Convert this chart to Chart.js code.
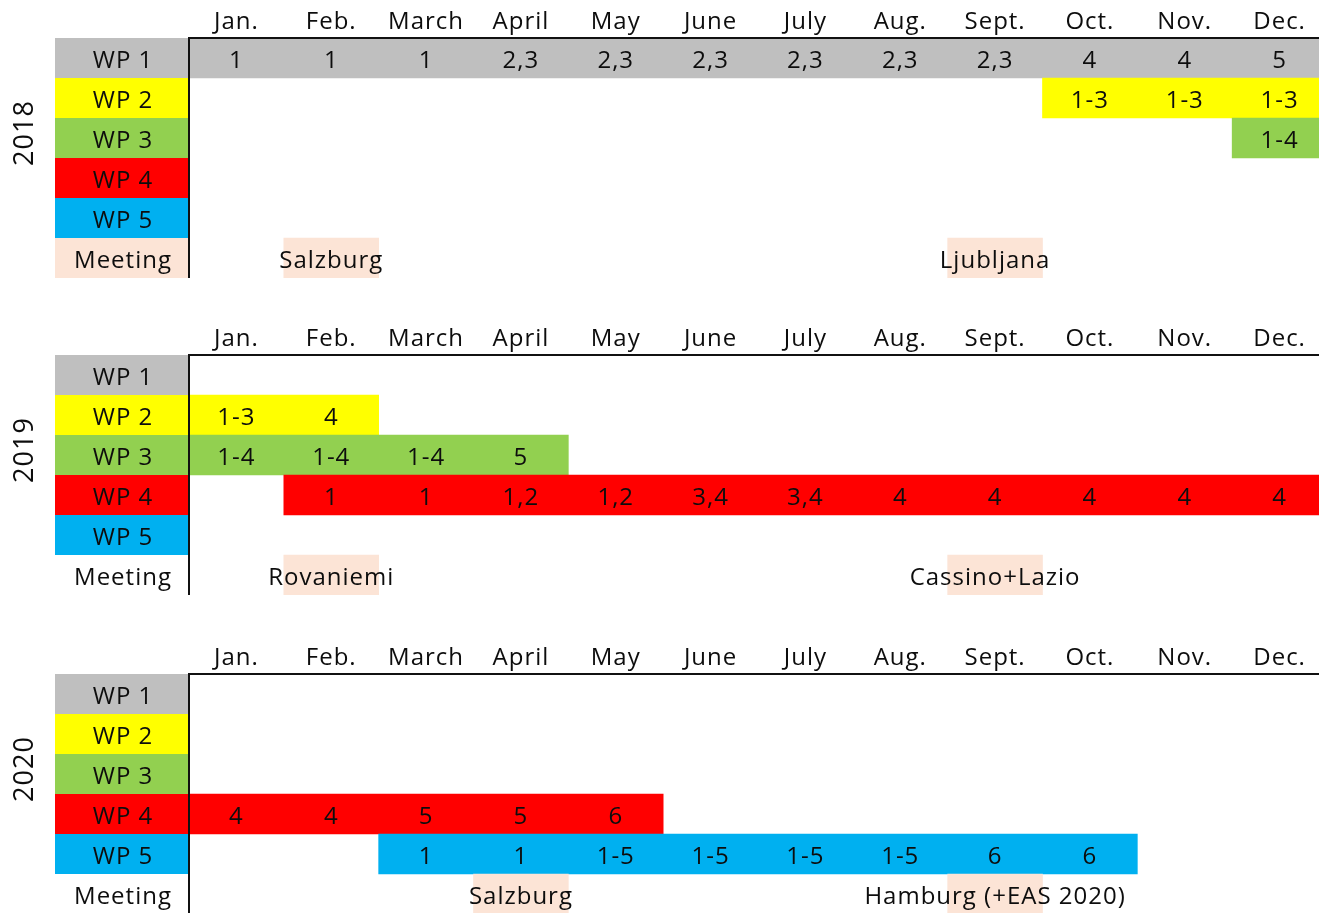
<!DOCTYPE html>
<html><head><meta charset="utf-8">
<script src="https://cdn.jsdelivr.net/npm/chart.js@4/dist/chart.umd.min.js"></script>
<style>
html,body{margin:0;padding:0;background:#fff;overflow:hidden;width:1319px;height:913px;position:relative}
.panel{position:absolute;left:0;width:1319px;overflow:hidden}
canvas{display:block}
</style></head><body>
<div class="panel" style="top:0;height:278px"><canvas id="c2018" width="1327" height="278"></canvas></div>
<div class="panel" style="top:317px;height:278px"><canvas id="c2019" width="1327" height="278"></canvas></div>
<div class="panel" style="top:636px;height:277px"><canvas id="c2020" width="1327" height="278"></canvas></div>
<script>
const months = ['Jan.','Feb.','March','April','May','June','July','Aug.','Sept.','Oct.','Nov.','Dec.'];
const rows = ['WP 1','WP 2','WP 3','WP 4','WP 5','Meeting'];
const _ = null;

// 2018
const wp1_2018 = ['1','1','1','2,3','2,3','2,3','2,3','2,3','2,3','4','4','5'];
const wp2_2018 = [_,_,_,_,_,_,_,_,_,'1-3','1-3','1-3'];
const wp3_2018 = [_,_,_,_,_,_,_,_,_,_,_,'1-4'];
const wp4_2018 = [_,_,_,_,_,_,_,_,_,_,_,_];
const wp5_2018 = [_,_,_,_,_,_,_,_,_,_,_,_];
const meeting_2018 = [_,'Salzburg',_,_,_,_,_,_,'Ljubljana',_,_,_];

// 2019
const wp1_2019 = [_,_,_,_,_,_,_,_,_,_,_,_];
const wp2_2019 = ['1-3','4',_,_,_,_,_,_,_,_,_,_];
const wp3_2019 = ['1-4','1-4','1-4','5',_,_,_,_,_,_,_,_];
const wp4_2019 = [_,'1','1','1,2','1,2','3,4','3,4','4','4','4','4','4'];
const wp5_2019 = [_,_,_,_,_,_,_,_,_,_,_,_];
const meeting_2019 = [_,'Rovaniemi',_,_,_,_,_,_,'Cassino+Lazio',_,_,_];

// 2020
const wp1_2020 = [_,_,_,_,_,_,_,_,_,_,_,_];
const wp2_2020 = [_,_,_,_,_,_,_,_,_,_,_,_];
const wp3_2020 = [_,_,_,_,_,_,_,_,_,_,_,_];
const wp4_2020 = ['4','4','5','5','6',_,_,_,_,_,_,_];
const wp5_2020 = [_,_,'1','1','1-5','1-5','1-5','1-5','6','6',_,_];
const meeting_2020 = [_,_,_,'Salzburg',_,_,_,_,'Hamburg (+EAS 2020)',_,_,_];

const wpColors = ['#BFBFBF','#FFFF00','#92D050','#FF0000','#00B0F0'];
const meetingColor = '#FCE4D6';
const FONT_FAMILY = '"Open Sans", Lato, sans-serif';
const FONT_SIZE = 24;
const YEAR_SIZE = 27;
const SPACING = '1px';
const TEXT_COLOR = '#0d0d0d';

function measure(txt){
  const c = document.createElement('canvas').getContext('2d');
  c.letterSpacing = SPACING;
  c.font = FONT_SIZE + 'px ' + FONT_FAMILY;
  return c.measureText(txt).width;
}

function buildChart(id, year, wpCells, meetingCells, meetingLabelColor){
  const bars = [], colors = [];
  wpCells.forEach((cells, r) => {
    let i = 0;
    while (i < 12) {
      if (cells[i] != null) {
        let j = i;
        while (j < 12 && cells[j] != null) j++;
        bars.push({x:[i, j], y: rows[r]});
        colors.push(wpColors[r]);
        i = j;
      } else i++;
    }
  });
  meetingCells.forEach((m, i) => {
    if (m) { bars.push({x:[i, i+1], y:'Meeting'}); colors.push(meetingColor); }
  });
  const labelColors = wpColors.concat([meetingLabelColor]);
  const widest = measure('Meeting');
  const labelCenter = 123;
  const LEFT = 189;

  const plugin = {
    id: 'gantt_' + year,
    beforeUpdate(chart){ chart.ctx.letterSpacing = SPACING; },
    beforeDraw(chart){
      const ctx = chart.ctx, ys = chart.scales.y;
      ctx.letterSpacing = SPACING;
      const h = ys.getPixelForValue(1) - ys.getPixelForValue(0);
      ctx.save();
      rows.forEach((r, i) => {
        const cy = ys.getPixelForValue(i);
        ctx.fillStyle = labelColors[i];
        ctx.fillRect(55, cy - h/2, chart.chartArea.left - 55, h);
      });
      ctx.restore();
    },
    afterDatasetsDraw(chart){
      const ctx = chart.ctx, xs = chart.scales.x, ys = chart.scales.y;
      ctx.save();
      ctx.font = FONT_SIZE + 'px ' + FONT_FAMILY;
      ctx.fillStyle = TEXT_COLOR;
      ctx.textAlign = 'center';
      ctx.textBaseline = 'middle';
      const all = wpCells.concat([meetingCells]);
      all.forEach((cells, r) => {
        cells.forEach((t, i) => {
          if (t != null) ctx.fillText(t, xs.getPixelForValue(i + 0.5), ys.getPixelForValue(r) + 3);
        });
      });
      // year label
      ctx.font = YEAR_SIZE + 'px ' + FONT_FAMILY;
      const cy = (ys.getPixelForValue(0) + ys.getPixelForValue(4)) / 2 - 5;
      ctx.translate(25, cy);
      ctx.rotate(-Math.PI/2);
      ctx.fillText(String(year), 0, 0);
      ctx.restore();
    }
  };

  return new Chart(document.getElementById(id), {
    type: 'bar',
    data: {
      labels: rows,
      datasets: [{
        data: bars,
        backgroundColor: colors,
        borderWidth: 0,
        borderSkipped: false,
        barPercentage: 1,
        categoryPercentage: 1
      }]
    },
    options: {
      indexAxis: 'y',
      responsive: false,
      animation: false,
      devicePixelRatio: 1,
      layout: {padding: 0},
      plugins: {legend: {display: false}, tooltip: {enabled: false}},
      scales: {
        x: {
          type: 'linear', position: 'top', min: 0, max: 12,
          grid: {display: false, drawTicks: false},
          border: {display: true, color: '#111', width: 2, z: 1},
          afterBuildTicks(s){ s.ticks = months.map((m, i) => ({value: i + 0.5})); },
          afterFit(s){ s.height = 38; s.paddingLeft = 0; s.paddingRight = 0; },
          ticks: {
            autoSkip: false, maxRotation: 0, padding: 1,
            color: TEXT_COLOR,
            font: {family: FONT_FAMILY, size: FONT_SIZE},
            callback: (v, i) => months[i]
          }
        },
        y: {
          type: 'category', labels: rows,
          grid: {display: false, drawTicks: false},
          border: {display: true, color: '#111', width: 2, z: 1},
          afterFit(s){ s.width = LEFT; s.paddingTop = 0; s.paddingBottom = 0; },
          ticks: {
            crossAlign: 'center',
            labelOffset: 3,
            padding: LEFT - labelCenter - widest/2,
            color: TEXT_COLOR,
            font: {family: FONT_FAMILY, size: FONT_SIZE}
          }
        }
      }
    },
    plugins: [plugin]
  });
}

buildChart('c2018', 2018, [wp1_2018, wp2_2018, wp3_2018, wp4_2018, wp5_2018], meeting_2018, meetingColor);
buildChart('c2019', 2019, [wp1_2019, wp2_2019, wp3_2019, wp4_2019, wp5_2019], meeting_2019, '#FFFFFF');
buildChart('c2020', 2020, [wp1_2020, wp2_2020, wp3_2020, wp4_2020, wp5_2020], meeting_2020, '#FFFFFF');
</script>
</body></html>
